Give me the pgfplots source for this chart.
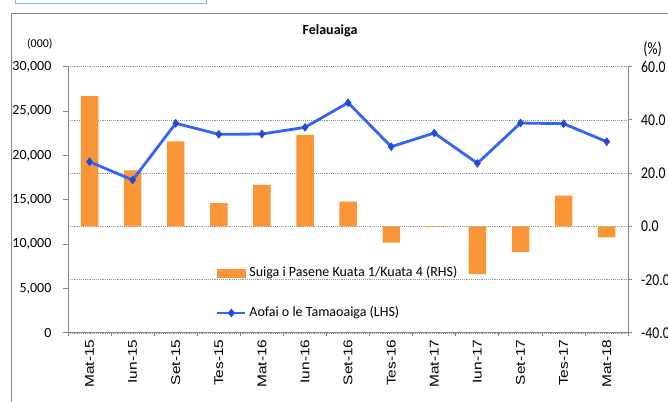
\documentclass[border=0pt]{standalone}
\usepackage{pgfplots}
\pgfplotsset{compat=1.18}
\usepackage{fontspec}
\usepackage{graphicx}
\setmainfont{Carlito}
\newfontfamily\arialf{Liberation Sans}
\definecolor{barorange}{RGB}{250,150,55}
\definecolor{lineblue}{RGB}{50,100,245}
\definecolor{markblue}{RGB}{35,75,210}
\definecolor{axgray}{RGB}{134,134,134}
\definecolor{gridgray}{RGB}{150,150,150}
\definecolor{selblue}{RGB}{120,185,235}
\newcommand{\rl}[1]{\scalebox{1}[1.2]{#1}}
\newcommand{\xl}[1]{\scalebox{1.22}[1]{#1}}
\begin{document}
\begin{tikzpicture}
\useasboundingbox (0,0) rectangle (501pt,301.5pt);
\clip (0,0) rectangle (501pt,301.5pt);
\draw[selblue, line width=0.75pt] (11.25pt,305pt) rectangle (155pt,299pt);
\draw[axgray, line width=0.75pt] (8.8pt,-10pt) -- (8.8pt,291.5pt) -- (520pt,291.5pt);
\node[font=\bfseries\fontsize{10.5}{12}\selectfont] at (247.5pt,278.25pt) {Felauaiga};
\node[font=\fontsize{9}{10}\selectfont] at (29.85pt,268.9pt) {(000)};
\node[font=\fontsize{10.5}{12}\selectfont] at (489.4pt,264.5pt) {\scalebox{1}[1.25]{(\%)}};
\pgfplotsset{common/.style={at={(51pt,51.75pt)}, anchor=south west, scale only axis,
  width=420.2pt, height=199.7pt, xmin=-0.5, xmax=12.5,
  axis line style={draw=axgray, line width=0.75pt},
  tick align=outside, scaled ticks=false}}
% right axis: bars (RHS)
\begin{axis}[common, ymin=-40, ymax=60,
  axis x line=none, axis y line*=right,
  ytick={-40,-20,0,20,40,60},
  yticklabels={\rl{-40.0},\rl{-20.0},\rl{0.0},\rl{20.0},\rl{40.0},\rl{60.0}},
  yticklabel style={font=\fontsize{10.3}{12}\selectfont, inner sep=0pt, anchor=west, xshift=7pt},
  ymajorgrids, grid style={densely dotted, gridgray, line width=0.6pt},
  major tick length=2.5pt, ytick style={draw=axgray, line width=0.75pt}]
\addplot[ybar, bar width=13.1pt, fill=barorange, draw=none] coordinates {
(0,49.0) (1,21.1) (2,32.0) (3,8.8) (4,15.6) (5,34.4) (6,9.3)
(7,-6.1) (8,-0.2) (9,-17.9) (10,-9.5) (11,11.6) (12,-4.1)};
\end{axis}
% left axis: line (LHS)
\begin{axis}[common, ymin=0, ymax=30000,
  axis y line*=left, axis x line*=bottom,
  xtick={0,...,12},
  xticklabels={\xl{Mat-15},\xl{Iun-15},\xl{Set-15},\xl{Tes-15},\xl{Mat-16},\xl{Iun-16},\xl{Set-16},\xl{Tes-16},\xl{Mat-17},\xl{Iun-17},\xl{Set-17},\xl{Tes-17},\xl{Mat-18}},
  xticklabel style={font=\arialf\fontsize{9.5}{11}\selectfont, rotate=90, anchor=east, inner sep=0pt, xshift=-1pt},
  major x tick style={draw=none},
  minor xtick={-0.5,0.5,...,12.5},
  minor x tick style={draw=axgray, line width=0.75pt},
  minor tick length=2.5pt,
  ytick={0,5000,10000,15000,20000,25000,30000},
  yticklabels={0,{5,000},{10,000},{15,000},{20,000},{25,000},{30,000}},
  yticklabel style={font=\fontsize{10.5}{12}\selectfont, inner sep=0pt, anchor=east, xshift=-8.5pt},
  ytick style={draw=axgray, line width=0.75pt},
  major tick length=3.75pt,
  legend style={at={(0.2636,0.2516)}, anchor=north west, draw=none, fill=none,
    inner sep=0pt, row sep=20pt, column sep=2pt,
    font=\fontsize{10.5}{12}\selectfont,
    nodes={inner sep=0pt, text height=7.5pt, text depth=2.5pt, anchor=west}},
  legend cell align=left]
\addlegendimage{legend image code/.code={\fill[barorange] (0pt,-2.9pt) rectangle (20.7pt,2.9pt);}}
\addlegendentry{Suiga i Pasene Kuata 1/Kuata 4 (RHS)}
\addplot[lineblue, line width=2.1pt, mark=diamond*,
  mark options={draw=markblue, fill=markblue, line width=0.4pt}, mark size=3pt,
  legend image code/.code={\draw[lineblue, line width=2.1pt, mark=diamond*, mark size=3pt, mark options={draw=markblue, fill=markblue, line width=0.4pt}, mark repeat=2, mark phase=2] plot coordinates {(0pt,0pt) (10.5pt,0pt) (21pt,0pt)};}]
coordinates {
(0,19298) (1,17236) (2,23624) (3,22385) (4,22419) (5,23173) (6,25945)
(7,20988) (8,22531) (9,19118) (10,23658) (11,23579) (12,21551)};
\addlegendentry{Aofai o le Tamaoaiga (LHS)}
\end{axis}
\end{tikzpicture}
\end{document}
